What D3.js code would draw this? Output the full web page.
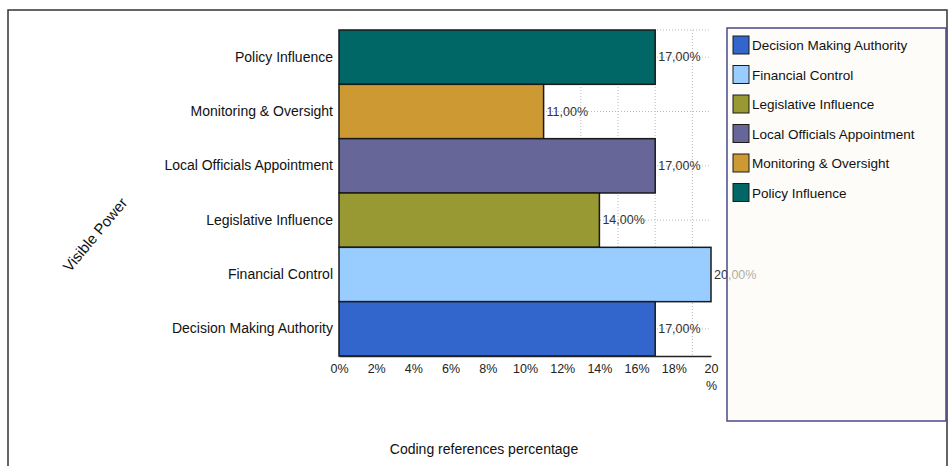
<!DOCTYPE html>
<html><head><meta charset="utf-8">
<script src="https://cdn.jsdelivr.net/npm/d3@7"></script>
<style>body{margin:0;background:#fff;} text{font-family:"Liberation Sans",Arial,sans-serif;}</style>
</head><body><svg id="c" width="949" height="466"></svg>
<script>
const categories = ["Policy Influence","Monitoring & Oversight","Local Officials Appointment","Legislative Influence","Financial Control","Decision Making Authority"];
const values = [17, 11, 17, 14, 20, 17];
const colors = ["#006666","#cc9933","#666699","#999933","#99ccff","#3366cc"];
const legendOrder = ["Decision Making Authority","Financial Control","Legislative Influence","Local Officials Appointment","Monitoring & Oversight","Policy Influence"];
const tickValues = [0,2,4,6,8,10,12,14,16,18,20];
const gridValues = [1,3,5,7,9,11,13,15,17,19];

const svg = d3.select("#c");
svg.append("rect").attr("x",8).attr("y",10).attr("width",939).attr("height",470)
  .attr("fill","#fff").attr("stroke","#333").attr("stroke-width",1.5);

const x = d3.scaleLinear().domain([0,20]).range([339,711]);
const y = d3.scaleBand().domain(categories).range([30,356]).padding(0);

const grid = svg.append("g").attr("stroke","#bbb").attr("stroke-dasharray","1,2").attr("stroke-width",1);
grid.selectAll("line.v").data(gridValues).join("line").attr("class","v")
  .attr("x1",d=>x(d)).attr("x2",d=>x(d)).attr("y1",30).attr("y2",356);
grid.selectAll("line.h").data(categories).join("line").attr("class","h")
  .attr("x1",x(0)).attr("x2",x(20)).attr("y1",d=>y(d)+y.bandwidth()/2).attr("y2",d=>y(d)+y.bandwidth()/2);
grid.append("line").attr("x1",x(0)).attr("x2",x(20)).attr("y1",30).attr("y2",30);

svg.append("g").selectAll("rect").data(categories).join("rect")
  .attr("x",x(0)).attr("y",d=>y(d)).attr("width",(d,i)=>x(values[i])-x(0)).attr("height",y.bandwidth())
  .attr("fill",(d,i)=>colors[i]).attr("stroke","#1a1a1a").attr("stroke-width",1.5);

svg.append("g").selectAll("text").data(categories).join("text")
  .attr("x",(d,i)=>x(values[i])+3).attr("y",d=>y(d)+y.bandwidth()/2+4)
  .attr("font-size",12.5).attr("fill","#333")
  .text((d,i)=>values[i].toFixed(2).replace(".",",")+"%");

const yAxis = svg.append("g").attr("transform","translate(339,0)")
  .call(d3.axisLeft(y).tickSize(0).tickPadding(6));
yAxis.select(".domain").remove();
yAxis.selectAll("text").attr("font-size",14).attr("fill","#111").attr("font-family","Liberation Sans, Arial, sans-serif");

const xAxis = svg.append("g").attr("transform","translate(0,356)")
  .call(d3.axisBottom(x).tickValues(tickValues).tickSize(0).tickPadding(8).tickFormat(d=>d===20?"20":d+"%"));
xAxis.select(".domain").attr("stroke","#222").attr("stroke-width",1.5);
xAxis.selectAll("text").attr("font-size",12.5).attr("fill","#222").attr("font-family","Liberation Sans, Arial, sans-serif");
xAxis.selectAll(".tick").filter(d=>d===20).append("text").attr("y",34).attr("fill","#222")
  .attr("font-size",12.5).attr("text-anchor","middle").attr("font-family","Liberation Sans, Arial, sans-serif").text("%");

svg.append("text").attr("x",484).attr("y",454).attr("text-anchor","middle").attr("font-size",14).attr("fill","#111")
  .text("Coding references percentage");
svg.append("text").attr("transform","translate(99,238) rotate(-50)").attr("text-anchor","middle")
  .attr("font-size",15).attr("fill","#111").text("Visible Power");

const lg = svg.append("g");
lg.append("rect").attr("x",727).attr("y",28).attr("width",219).attr("height",393)
  .attr("fill","#fdfaf4").attr("fill-opacity",0.6).attr("stroke","#4a4a8a").attr("stroke-width",1.5);
const items = lg.selectAll("g").data(legendOrder).join("g")
  .attr("transform",(d,i)=>`translate(733,${36+i*29.5})`);
items.append("rect").attr("width",16).attr("height",18)
  .attr("fill",d=>colors[categories.indexOf(d)]).attr("stroke","#1a1a1a").attr("stroke-width",1);
items.append("text").attr("x",19).attr("y",14).attr("font-size",13.5).attr("fill","#111").text(d=>d);
</script></body></html>
